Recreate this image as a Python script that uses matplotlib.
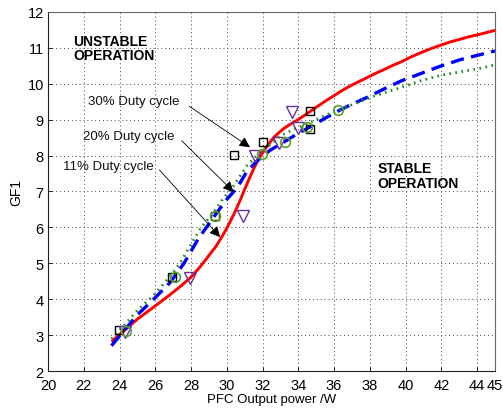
import matplotlib
matplotlib.use("Agg")
import matplotlib.pyplot as plt

plt.rcParams['font.family'] = ['Liberation Sans', 'DejaVu Sans']

# ---- data ----
red_x = [23.6, 24.3, 25.0, 26.0, 26.8, 27.5, 28.0, 28.5, 29.0, 29.4, 29.7, 30.0, 30.25,
         30.5, 30.75, 31.0, 31.31, 31.55, 31.78, 32.06, 32.34, 32.62, 32.9, 33.18, 33.55,
         33.93, 34.5, 35.05, 35.5, 35.98, 36.45, 36.92, 37.4, 37.86, 38.3, 38.79, 39.25,
         39.73, 40.3, 40.85, 41.4, 41.97, 42.5, 43.09, 43.6, 44.21, 44.6, 45.0]
red_y = [2.85, 3.15, 3.45, 3.82, 4.12, 4.4, 4.62, 4.9, 5.22, 5.48, 5.72, 5.98, 6.22,
         6.48, 6.76, 7.06, 7.42, 7.68, 7.9, 8.12, 8.32, 8.5, 8.63, 8.75, 8.87,
         8.98, 9.17, 9.36, 9.51, 9.66, 9.81, 9.94, 10.06, 10.17, 10.28, 10.39, 10.5,
         10.6, 10.74, 10.86, 10.97, 11.07, 11.16, 11.24, 11.31, 11.38, 11.43, 11.48]

blue_x = [23.55, 24.2, 24.96, 26.0, 26.83, 27.6, 28.4, 29.0, 29.5, 30.0, 30.57, 31.13,
          31.69, 32.06, 32.43, 33.18, 33.93, 34.86, 35.5, 36.27, 36.92, 37.86, 38.79,
          39.73, 40.85, 41.97, 43.09, 44.21, 45.0]
blue_y = [2.71, 3.1, 3.55, 4.05, 4.47, 5.0, 5.68, 6.1, 6.45, 6.78, 7.1, 7.56,
          7.85, 8.0, 8.15, 8.37, 8.6, 8.85, 9.04, 9.25, 9.41, 9.62, 9.85,
          10.07, 10.28, 10.49, 10.67, 10.81, 10.91]

green_x = [23.55, 24.3, 25.0, 25.89, 26.5, 27.01, 27.5, 27.95, 28.51, 29.25, 29.8, 30.38,
           31.13, 31.87, 32.5, 33.0, 33.7, 34.49, 35.24, 36.27, 37.3, 38.23, 39.16,
           40.1, 40.85, 41.97, 43.09, 44.21, 45.0]
green_y = [2.9, 3.3, 3.7, 4.1, 4.45, 4.75, 5.1, 5.49, 5.96, 6.42, 6.8, 7.16,
           7.72, 8.09, 8.33, 8.55, 8.72, 8.88, 9.06, 9.27, 9.47, 9.65, 9.8,
           9.95, 10.08, 10.23, 10.33, 10.43, 10.52]

sq_x = [23.98, 26.95, 29.33, 30.40, 32.02, 34.68, 34.68]
sq_y = [3.16, 4.63, 6.31, 8.02, 8.37, 9.25, 8.75]

tri_x = [24.3, 27.96, 30.9, 31.59, 32.9, 33.65, 33.96]
tri_y = [3.08, 4.59, 6.31, 7.99, 8.34, 9.22, 8.76]

circ_x = [24.36, 27.12, 29.33, 31.97, 33.28, 34.49, 36.24]
circ_y = [3.13, 4.61, 6.31, 8.04, 8.37, 8.78, 9.26]

x_ticks = [20, 22, 24, 26, 28, 30, 32, 34, 36, 38, 40, 42, 44, 45]
y_ticks = [2, 3, 4, 5, 6, 7, 8, 9, 10, 11, 12]

labels = ["30% Duty cycle", "20% Duty cycle", "11% Duty cycle"]
label_pos = [(22.24, 9.52), (21.96, 8.53), (20.84, 7.70)]
arrow_start = [(27.9, 9.37), (27.48, 8.41), (26.23, 7.6)]
arrow_tip = [(31.3, 8.23), (30.38, 6.99), (29.63, 5.73)]

# ---- figure ----
fig = plt.figure(figsize=(5.03, 4.10), dpi=100)
ax = fig.add_axes([0.0955, 0.092, 0.8885, 0.877])

ax.plot(red_x, red_y, color='#ff0000', lw=2.1, solid_capstyle='round',
        solid_joinstyle='round', zorder=3)
ax.plot(blue_x, blue_y, color='#0000ff', lw=2.4, linestyle=(0, (4, 2.2)), zorder=3)
ax.plot(green_x, green_y, color='#228b22', lw=2.0, linestyle=(0, (0.6, 1.6)), zorder=3)

ax.plot(sq_x, sq_y, linestyle='none', marker='s', markersize=5.5, markerfacecolor='none',
        markeredgecolor='black', markeredgewidth=1.0, zorder=4)
ax.plot(tri_x, tri_y, linestyle='none', marker='v', markersize=8, markerfacecolor='none',
        markeredgecolor='#6a2fa0', markeredgewidth=1.0, zorder=4)
ax.plot(circ_x, circ_y, linestyle='none', marker='o', markersize=7, markerfacecolor='none',
        markeredgecolor='#5aa02c', markeredgewidth=1.2, zorder=4)

for lab, (tx, ty), st, tp in zip(labels, label_pos, arrow_start, arrow_tip):
    ax.text(tx, ty, lab, ha='left', va='center', fontsize=9.5, color='#111111', zorder=5)
    ax.annotate('', xy=tp, xytext=st,
                arrowprops=dict(arrowstyle='-|>', color='black', lw=0.6,
                                mutation_scale=16, shrinkA=0, shrinkB=0),
                zorder=5)

ax.text(21.4, 10.99, "UNSTABLE\nOPERATION", ha='left', va='center', fontsize=10,
        fontweight='bold', linespacing=1.05, zorder=5)
ax.text(38.42, 7.44, "STABLE\nOPERATION", ha='left', va='center', fontsize=10,
        fontweight='bold', linespacing=1.05, zorder=5)

ax.set_xlim(20, 45)
ax.set_ylim(2, 12)
ax.set_xticks(x_ticks)
ax.set_yticks(y_ticks)
ax.set_xticklabels([str(t) for t in x_ticks], fontsize=10.5)
ax.set_yticklabels([str(t) for t in y_ticks], fontsize=10.5)
ax.tick_params(direction='in', length=3, width=0.6, pad=3)
ax.tick_params(axis='x', pad=4.5)
ax.grid(True, linestyle=(0, (1, 3)), color='#444444', lw=0.7)

ax.set_xlabel("PFC Output power /W", fontsize=9.5, labelpad=1)
ax.set_ylabel("GF1", fontsize=10, labelpad=3)

for s in ['left', 'bottom']:
    ax.spines[s].set_color('#222222')
for s in ['top', 'right']:
    ax.spines[s].set_color('#666666')
for s in ax.spines.values():
    s.set_linewidth(0.8)

fig.savefig("out.png", dpi=100)
